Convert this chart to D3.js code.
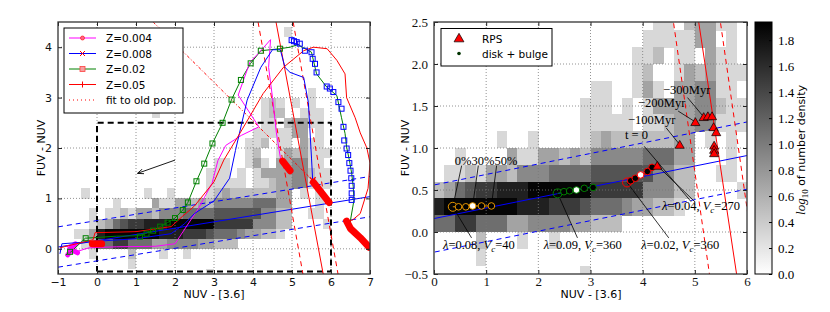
<!DOCTYPE html>
<html><head><meta charset="utf-8">
<script src="https://cdn.jsdelivr.net/npm/d3@7"></script>
<style>body{margin:0;background:#fff}</style></head>
<body><svg id="c" width="830" height="312"></svg>
<script>
// ---------- DATA ----------
// 2D histogram of galaxies: rows from top (y 4.2-4.4) down to (y -0.6..-0.4); cols x from -1.0 step 0.2
const histX0 = -1.0, histYTop = 4.2, histBin = 0.2;
const levelValues = [0, 0.3, 0.5, 0.7, 0.9, 1.1, 1.3, 1.5, 1.7, 1.9]; // log10 number density
const densityRows = [
  "..... ..... ..... ..... ..... ....1 ..... .....",
  "..... ..... ..... ..... ..... ..... ..... .....",
  "..... ..... ..... ..... ..... ..... ..... .....",
  "..... ..... ..... ..... ..... ..... ..... .....",
  "..... ..... ..... ..... ..... ..... ..... .....",
  "..... ..... ..... ..... ..... ..... ..... .....",
  "..... ..... ..... ..... ..... ..... ..1.. .....",
  "..... ..... ..... ..... ..... .121. 1.1.. .....",
  "..... ..... ..1.. ..... ..... .122. .111. .....",
  "..... ..... ..... ..... ..... .11.2 3311. .....",
  "..... ..... ..... ..... ..... 11111 33.1. .....",
  "..... ..... ..... ..... ....1 12.11 .311. .....",
  "..... ..... ..... ..... ....1 2..13 23111 .....",
  "..... ..... ..... ..... 11..1 31.33 4411. .....",
  "..... ..... ..... ....1 11.1. 13333 44211 .....",
  "..... ..... ..... ....1 1111. 11233 44111 .....",
  "...1. ..... .1..1 ....1 23222 22233 .1.1. .....",
  "..... ..1.. ..311 33232 44444 55533 ...1. .....",
  "....1 .1121 33244 45555 66666 64422 ..11. .....",
  "....1 23567 78889 99999 77777 44422 ....1 .....",
  "..113 89999 99988 87776 55543 3221. ..... .....",
  "...12 55775 55334 44433 222.. ..... ..... .....",
  "....1 ....2 ...1. .1... ..... ..... ..... .....",
  "..... ....1 ..... ..... ..... ..... ..... .....",
  "..... ..... ..... ....1 ..... ..... ..... ....."
];

// tick labels
const leftXTicks = [-1, 0, 1, 2, 3, 4, 5, 6, 7];
const leftYTicks = [0, 1, 2, 3, 4];
const rightXTicks = [0, 1, 2, 3, 4, 5, 6];
const rightYTicks = [-0.5, 0, 0.5, 1, 1.5, 2, 2.5];
const cbTicks = [0, 0.2, 0.4, 0.6, 0.8, 1.0, 1.2, 1.4, 1.6, 1.8];
const cbMax = 1.94;

// model tracks (left panel)
const trackZ004 = [[-0.75,-0.12],[-0.55,0.12],[-0.78,0.05],[-0.5,-0.05],[-0.2,0.02],[0.5,0.04],[1.5,0.05],[2.0,0.1],[2.3,0.45],[2.6,0.8],[2.95,1.3],[3.1,1.75],[3.3,2.05],[3.7,2.25],[4.15,2.42],[3.62,3.05],[3.92,3.7],[4.2,3.93],[4.45,4.15],[4.4,3.6],[4.5,3.0],[4.6,2.3],[4.72,1.72]];
const trackZ008 = [[-0.95,-0.1],[-0.9,0.1],[0,0.15],[1.0,0.2],[1.9,0.3],[2.25,0.5],[2.5,0.7],[3.0,0.95],[3.4,1.4],[3.55,1.95],[3.85,2.95],[4.2,3.6],[4.5,3.95],[4.7,3.95],[4.82,3.6],[4.95,3.5],[5.3,3.4],[5.42,2.9],[5.5,1.8],[5.53,1.36]];
const trackZ02 = [[-0.8,-0.12],[-0.65,-0.05],[-0.3,0.21],[0.5,0.25],[1.1,0.26],[1.44,0.36],[1.62,0.44],[1.81,0.52],[2.0,0.61],[2.2,0.77],[2.33,0.92],[2.55,1.34],[2.75,1.69],[2.96,2.09],[3.22,2.5],[3.45,2.96],[3.69,3.35],[3.94,3.68],[4.2,3.93],[4.69,3.97],[4.95,4.0],[5.15,4.05],[5.5,3.9],[5.63,3.47],[5.89,3.21],[6.15,3.04],[6.27,2.6],[6.36,2.29],[6.4,2.02],[6.47,1.76],[6.53,1.5],[6.57,1.23],[6.59,0.97],[6.5,0.57],[6.5,0.35]];
const trackZ05 = [[-0.95,0.02],[-0.1,0.18],[-0.05,0.32],[1.0,0.34],[1.9,0.44],[2.2,0.65],[2.5,0.85],[3.0,1.33],[3.25,1.76],[3.67,2.3],[4.26,3.08],[4.78,3.6],[5.3,3.93],[5.55,4.0],[5.9,3.97],[6.15,3.74],[6.36,3.47],[6.4,3.0],[6.62,2.6],[6.75,2.3],[6.92,2.0],[7.0,1.7],[6.95,1.2],[6.75,0.7],[6.55,0.57],[6.4,0.55]];
const greenSquares = [[-0.69,-0.06],[-0.29,0.21],[1.1,0.24],[1.27,0.3],[1.44,0.36],[1.62,0.44],[1.81,0.52],[2.0,0.61],[2.2,0.77],[2.33,0.92],[2.55,1.34],[2.75,1.69],[2.96,2.09],[3.22,2.5],[3.45,2.96],[3.69,3.35],[3.94,3.68],[4.2,3.93],[4.69,3.97]];
const blueSquares = [[4.99,4.14],[5.05,4.12],[5.12,4.1],[5.2,4.07],[5.33,3.93],[5.5,3.9],[5.53,3.77],[5.59,3.67],[5.63,3.5],[5.89,3.22],[5.97,3.18],[6.06,3.11],[6.19,2.91],[6.27,2.78],[6.32,2.42],[6.34,2.15],[6.4,1.99],[6.44,1.86],[6.47,1.7],[6.5,1.55],[6.52,1.4],[6.53,1.25],[6.53,1.1],[6.53,0.97]];
const blobs = [
  [[4.76,1.74],[4.95,1.55]],
  [[5.55,1.32],[5.75,1.12],[5.95,0.92]],
  [[6.4,0.55],[6.5,0.4],[6.75,0.22],[6.98,0.03]],
  [[-0.12,0.1],[0.12,0.1]]
];
const magentaBlob = [[-0.75,-0.12],[-0.55,0.1],[-0.7,0.0],[-0.5,-0.08]];
const oldFit = [[1.44,4.5],[5.45,1.42]];
const redFit = [[4.59,4.5],[5.80,-0.5]];
const redFitLo = [[4.13,4.5],[5.28,-0.5]];
const redFitHi = [[5.03,4.5],[6.18,-0.5]];
const blueFit = [[-1,0.035],[7,1.035]];
const blueFitHi = [[-1,0.435],[7,1.435]];
const blueFitLo = [[-1,-0.365],[7,0.635]];
const selBox = [[0,-0.45],[6,-0.45],[6,2.5],[0,2.5],[0,-0.45]];
const arrowLine = [[2.0,1.76],[1.05,1.5]];
const legendNames = ["Z=0.004","Z=0.008","Z=0.02","Z=0.05","fit to old pop."];

// right panel points
const orangeX = [0.36,0.47,0.61,0.74,0.91,1.1], orangeY = [0.30,0.30,0.30,0.31,0.31,0.31];
const greenX = [2.37,2.49,2.6,2.73,2.88,3.05], greenY = [0.46,0.48,0.49,0.5,0.52,0.53];
const redCX = [3.7,3.77,3.86,3.96,4.09,4.18], redCY = [0.59,0.61,0.64,0.68,0.72,0.77];
const rpsX = [4.28,4.71,5.01,5.17,5.25,5.33,5.36,5.41,5.37,5.37,5.37];
const rpsY = [0.79,1.04,1.31,1.37,1.38,1.38,1.25,1.19,1.03,0.98,0.94];

// ---------- DRAW ----------
const svg = d3.select("#c");
const defs = svg.append("defs");
const sans = "DejaVu Sans, sans-serif";
const serif = "Liberation Serif, DejaVu Serif, serif";
const gray = d3.scaleLinear().domain([0, cbMax]).range(["#ffffff", "#000000"]);

function addClip(id, x, y, w, h) {
  defs.append("clipPath").attr("id", id).append("rect").attr("x", x).attr("y", y).attr("width", w).attr("height", h);
}

function drawHist(g, xs, ys) {
  densityRows.forEach((row, i) => {
    const s = row.replace(/ /g, "");
    const yb = histYTop - histBin * i;
    for (let c = 0; c < s.length; c++) {
      if (s[c] === ".") continue;
      const x = histX0 + histBin * c;
      const v = levelValues[+s[c]];
      g.append("rect")
        .attr("x", xs(x)).attr("y", ys(yb + histBin))
        .attr("width", xs(x + histBin) - xs(x) + 0.3)
        .attr("height", ys(yb) - ys(yb + histBin) + 0.3)
        .attr("fill", gray(v)).attr("shape-rendering", "crispEdges");
    }
  });
}

function drawGrid(g, xs, ys, xt, yt) {
  const [x0, x1] = xs.range(), [y0, y1] = ys.range();
  xt.forEach(t => { const p = xs(t); if (Math.abs(p - x0) > 1 && Math.abs(p - x1) > 1)
    g.append("line").attr("x1", p).attr("x2", p).attr("y1", y0).attr("y2", y1)
     .attr("stroke", "#777").attr("stroke-width", 0.8).attr("stroke-dasharray", "1,2"); });
  yt.forEach(t => { const p = ys(t); if (Math.abs(p - y0) > 1 && Math.abs(p - y1) > 1)
    g.append("line").attr("x1", x0).attr("x2", x1).attr("y1", p).attr("y2", p)
     .attr("stroke", "#777").attr("stroke-width", 0.8).attr("stroke-dasharray", "1,2"); });
}

function drawAxes(xs, ys, xt, yt, xfmt, yfmt, font, fsize, xpad) {
  const [x0, x1] = xs.range(), [y0, y1] = ys.range();
  const styleAx = (g) => {
    g.select(".domain").remove();
    g.selectAll(".tick line").attr("stroke", "#222");
    g.selectAll(".tick text").attr("font-family", font).attr("font-size", fsize).attr("fill", "#111");
  };
  svg.append("g").attr("transform", `translate(0,${y0})`)
    .call(d3.axisBottom(xs).tickValues(xt).tickFormat(xfmt).tickSize(-4).tickPadding(xpad)).call(styleAx);
  svg.append("g").attr("transform", `translate(0,${y1})`)
    .call(d3.axisTop(xs).tickValues(xt).tickFormat("").tickSize(-4)).call(styleAx);
  svg.append("g").attr("transform", `translate(${x0},0)`)
    .call(d3.axisLeft(ys).tickValues(yt).tickFormat(yfmt).tickSize(-4).tickPadding(6)).call(styleAx);
  svg.append("g").attr("transform", `translate(${x1},0)`)
    .call(d3.axisRight(ys).tickValues(yt).tickFormat("").tickSize(-4)).call(styleAx);
  svg.append("rect").attr("x", x0).attr("y", y1).attr("width", x1 - x0).attr("height", y0 - y1)
    .attr("fill", "none").attr("stroke", "#333").attr("stroke-width", 1.3);
}

// ===== LEFT PANEL =====
const xL = d3.scaleLinear().domain([-1, 7]).range([58, 370]);
const yL = d3.scaleLinear().domain([-0.5, 4.5]).range([274, 22]);
addClip("clipL", 58, 22, 312, 252);
const gL = svg.append("g").attr("clip-path", "url(#clipL)");
drawHist(gL, xL, yL);
drawGrid(gL, xL, yL, leftXTicks, leftYTicks);
const lineL = d3.line().x(d => xL(d[0])).y(d => yL(d[1]));

gL.append("path").attr("d", lineL(selBox)).attr("fill", "none").attr("stroke", "#000").attr("stroke-width", 2).attr("stroke-dasharray", "6,4");
[[blueFitHi, "5,4"], [blueFitLo, "5,4"], [blueFit, null]].forEach(([d, da]) => {
  gL.append("path").attr("d", lineL(d)).attr("fill", "none").attr("stroke", "#0000ff").attr("stroke-width", 1).attr("stroke-dasharray", da);
});
[[redFitLo, "5,4"], [redFitHi, "5,4"], [redFit, null]].forEach(([d, da]) => {
  gL.append("path").attr("d", lineL(d)).attr("fill", "none").attr("stroke", "#ff0000").attr("stroke-width", 1).attr("stroke-dasharray", da);
});
gL.append("path").attr("d", lineL(oldFit)).attr("fill", "none").attr("stroke", "#ff0000").attr("stroke-width", 1).attr("stroke-dasharray", "3,2,1,2");

// tracks
gL.append("path").attr("d", lineL(magentaBlob)).attr("fill", "none").attr("stroke", "#ff00ff").attr("stroke-width", 5).attr("stroke-linecap", "round").attr("stroke-linejoin", "round");
gL.append("path").attr("d", lineL(trackZ02)).attr("fill", "none").attr("stroke", "#008000").attr("stroke-width", 1);
gL.append("path").attr("d", lineL(trackZ004)).attr("fill", "none").attr("stroke", "#ff00ff").attr("stroke-width", 1);
gL.append("path").attr("d", lineL(trackZ008)).attr("fill", "none").attr("stroke", "#0000ff").attr("stroke-width", 1);
gL.append("path").attr("d", lineL(trackZ05)).attr("fill", "none").attr("stroke", "#ff0000").attr("stroke-width", 1);
gL.selectAll(".gsq").data(greenSquares).enter().append("rect")
  .attr("x", d => xL(d[0]) - 2.5).attr("y", d => yL(d[1]) - 2.5).attr("width", 5).attr("height", 5)
  .attr("fill", "none").attr("stroke", "#008000").attr("stroke-width", 1);
gL.selectAll(".bsq").data(blueSquares).enter().append("rect")
  .attr("x", d => xL(d[0]) - 2.5).attr("y", d => yL(d[1]) - 2.5).attr("width", 5).attr("height", 5)
  .attr("fill", "none").attr("stroke", "#0000ff").attr("stroke-width", 1);
blobs.forEach(b => {
  gL.append("path").attr("d", lineL(b)).attr("fill", "none").attr("stroke", "#ff0000").attr("stroke-width", 7)
    .attr("stroke-linecap", "round").attr("stroke-linejoin", "round");
});
{
  const px = xL(5.53), py = yL(1.36);
  gL.append("path").attr("d", `M${px-3},${py-3}L${px+3},${py+3}M${px-3},${py+3}L${px+3},${py-3}`).attr("stroke", "#ff0000").attr("stroke-width", 1.2);
}
defs.append("marker").attr("id", "ah").attr("viewBox", "0 0 10 10").attr("refX", 9).attr("refY", 5)
  .attr("markerWidth", 7).attr("markerHeight", 7).attr("orient", "auto")
  .append("path").attr("d", "M0,1L10,5L0,9").attr("fill", "none").attr("stroke", "#000").attr("stroke-width", 1.3);
gL.append("path").attr("d", lineL(arrowLine)).attr("stroke", "#000").attr("stroke-width", 0.9).attr("marker-end", "url(#ah)");

drawAxes(xL, yL, leftXTicks, leftYTicks, d3.format("d"), d3.format("d"), sans, 11, 4);

// left legend
{
  const lg = svg.append("g");
  lg.append("rect").attr("x", 64).attr("y", 28).attr("width", 119).attr("height", 85).attr("fill", "#fff").attr("stroke", "#000").attr("stroke-width", 1);
  const cols = ["#ff00ff", "#0000ff", "#008000", "#ff0000", "#ff0000"];
  legendNames.forEach((n, i) => {
    const y = 38 + i * 15.5;
    const l = lg.append("line").attr("x1", 69).attr("x2", 96).attr("y1", y).attr("y2", y).attr("stroke", cols[i]).attr("stroke-width", 1);
    if (i === 4) l.attr("stroke-dasharray", "1,3");
    const mx = 82.5;
    if (i === 0) lg.append("circle").attr("cx", mx).attr("cy", y).attr("r", 2).attr("fill", "#ff6688").attr("stroke", "#ff0000").attr("stroke-width", 0.6);
    if (i === 1) lg.append("path").attr("d", `M${mx-2.5},${y-2.5}L${mx+2.5},${y+2.5}M${mx-2.5},${y+2.5}L${mx+2.5},${y-2.5}`).attr("stroke", "#ff0000").attr("stroke-width", 1);
    if (i === 2) lg.append("rect").attr("x", mx - 2.5).attr("y", y - 2.5).attr("width", 5).attr("height", 5).attr("fill", "#f4a0a0").attr("stroke", "#ff4040").attr("stroke-width", 0.8);
    if (i === 3) lg.append("path").attr("d", `M${mx-3},${y}L${mx+3},${y}M${mx},${y-3}L${mx},${y+3}`).attr("stroke", "#ff0000").attr("stroke-width", 1);
    lg.append("text").attr("x", 106).attr("y", y + 4).attr("font-family", sans).attr("font-size", 10.5).text(n);
  });
}
svg.append("text").attr("x", 214).attr("y", 298).attr("text-anchor", "middle").attr("font-family", sans).attr("font-size", 11).text("NUV - [3.6]");
svg.append("text").attr("transform", "translate(45,148) rotate(-90)").attr("text-anchor", "middle").attr("font-family", sans).attr("font-size", 11).text("FUV - NUV");

// ===== RIGHT PANEL =====
const xR = d3.scaleLinear().domain([0, 6]).range([434, 747]);
const yR = d3.scaleLinear().domain([-0.5, 2.5]).range([274, 22]);
addClip("clipR", 434, 22, 313, 252);
const gR = svg.append("g").attr("clip-path", "url(#clipR)");
drawHist(gR, xR, yR);
drawGrid(gR, xR, yR, rightXTicks, rightYTicks);
const lineR = d3.line().x(d => xR(d[0])).y(d => yR(d[1]));
[[blueFitHi, "5,4"], [blueFitLo, "5,4"], [blueFit, null]].forEach(([d, da]) => {
  gR.append("path").attr("d", lineR(d)).attr("fill", "none").attr("stroke", "#0000ff").attr("stroke-width", 1).attr("stroke-dasharray", da);
});
[[redFitLo, "5,4"], [redFitHi, "5,4"], [redFit, null]].forEach(([d, da]) => {
  gR.append("path").attr("d", lineR(d)).attr("fill", "none").attr("stroke", "#ff0000").attr("stroke-width", 1).attr("stroke-dasharray", da);
});

// annotation leader lines
const leaders = [
  [[0.53, 0.79], [0.36, 0.30]],
  [[0.85, 0.79], [0.74, 0.31]],
  [[1.2, 0.79], [1.1, 0.31]],
  [[0.36, 0.30], [0.72, -0.07]],
  [[2.37, 0.46], [2.75, -0.07]],
  [[3.7, 0.59], [4.5, -0.07]],
  [[4.28, 0.79], [5.0, 0.36]],
  [[4.03, 1.02], [4.93, 0.36]],
  [[4.45, 1.24], [4.71, 1.04]],
  [[4.68, 1.44], [5.01, 1.31]],
  [[4.86, 1.6], [5.17, 1.37]]
];
leaders.forEach(d => gR.append("path").attr("d", lineR(d)).attr("stroke", "#000").attr("stroke-width", 0.8));

function circles(xs, ys, col, whiteIdx) {
  xs.forEach((x, i) => {
    const cx = xR(x), cy = yR(ys[i]);
    gR.append("circle").attr("cx", cx).attr("cy", cy).attr("r", i === 0 ? 4.5 : 3.3)
      .attr("fill", i === whiteIdx ? "#fff" : (i === 0 ? "none" : "#000")).attr("stroke", col).attr("stroke-width", 1);
  });
}
const lineXY = (xs, ys) => xs.map((x, i) => [x, ys[i]]);
gR.append("path").attr("d", lineR(lineXY(orangeX, orangeY))).attr("fill", "none").attr("stroke", "#e69500").attr("stroke-width", 1);
circles(orangeX, orangeY, "#e69500", 3);
gR.append("path").attr("d", lineR(lineXY(greenX, greenY))).attr("fill", "none").attr("stroke", "#008000").attr("stroke-width", 1);
circles(greenX, greenY, "#008000", 3);
gR.append("path").attr("d", lineR(lineXY(redCX, redCY))).attr("fill", "none").attr("stroke", "#ff0000").attr("stroke-width", 1);
circles(redCX, redCY, "#ff0000", 3);
const tri = d3.symbol().type(d3.symbolTriangle).size(36);
rpsX.forEach((x, i) => {
  gR.append("path").attr("d", tri()).attr("transform", `translate(${xR(x)},${yR(rpsY[i]) + 1})`)
    .attr("fill", "#ff0000").attr("stroke", "#000").attr("stroke-width", 0.7);
});

// right annotations text
function mathLabel(x, y, lam, vc) {
  const t = svg.append("text").attr("x", xR(x)).attr("y", yR(y)).attr("text-anchor", "middle").attr("font-family", serif).attr("font-size", 12.5);
  t.append("tspan").attr("font-style", "italic").text("λ");
  t.append("tspan").text("=" + lam + ", ");
  t.append("tspan").attr("font-style", "italic").text("V");
  t.append("tspan").attr("font-style", "italic").attr("font-size", 9).attr("dy", 3).text("c");
  t.append("tspan").attr("dy", -3).text("=" + vc);
}
mathLabel(0.86, -0.2, "0.08", "40");
mathLabel(2.85, -0.2, "0.09", "360");
mathLabel(4.72, -0.2, "0.02", "360");
mathLabel(5.12, 0.26, "0.04", "270");
const stxt = (x, y, s) => svg.append("text").attr("x", xR(x)).attr("y", yR(y))
  .attr("font-family", serif).attr("font-size", 12.5).text(s);
stxt(0.4, 0.8, "0%30%50%");
stxt(4.39, 1.64, "−300Myr");
stxt(3.91, 1.49, "−200Myr");
stxt(3.72, 1.29, "−100Myr");
stxt(3.66, 1.11, "t = 0");

drawAxes(xR, yR, rightXTicks, rightYTicks, d3.format("d"), d3.format(".1f"), serif, 13, 3);

// right legend
{
  const lg = svg.append("g");
  lg.append("rect").attr("x", 441).attr("y", 28.5).attr("width", 111).attr("height", 37.5).attr("fill", "#fff").attr("stroke", "#000").attr("stroke-width", 1);
  lg.append("path").attr("d", d3.symbol().type(d3.symbolTriangle).size(42)()).attr("transform", "translate(459,39)").attr("fill", "#ff0000").attr("stroke", "#000").attr("stroke-width", 0.7);
  lg.append("circle").attr("cx", 459).attr("cy", 53.5).attr("r", 1.8).attr("fill", "#003300");
  lg.append("text").attr("x", 482).attr("y", 43).attr("font-family", sans).attr("font-size", 10.5).text("RPS");
  lg.append("text").attr("x", 482).attr("y", 57.5).attr("font-family", sans).attr("font-size", 10.5).text("disk + bulge");
}
svg.append("text").attr("x", 591).attr("y", 298).attr("text-anchor", "middle").attr("font-family", sans).attr("font-size", 11).text("NUV - [3.6]");
svg.append("text").attr("transform", "translate(409,148) rotate(-90)").attr("text-anchor", "middle").attr("font-family", sans).attr("font-size", 11).text("FUV - NUV");

// ===== COLORBAR =====
const cbY = d3.scaleLinear().domain([0, cbMax]).range([274, 22]);
const grad = defs.append("linearGradient").attr("id", "cbg").attr("x1", 0).attr("x2", 0).attr("y1", 1).attr("y2", 0);
grad.append("stop").attr("offset", "0%").attr("stop-color", gray(0));
grad.append("stop").attr("offset", "100%").attr("stop-color", gray(cbMax));
svg.append("rect").attr("x", 755).attr("y", 22).attr("width", 17).attr("height", 252).attr("fill", "url(#cbg)").attr("stroke", "#000").attr("stroke-width", 1);
svg.append("g").attr("transform", "translate(772,0)")
  .call(d3.axisRight(cbY).tickValues(cbTicks).tickFormat(d3.format(".1f")).tickSize(-3).tickPadding(6))
  .call(g => { g.select(".domain").remove(); g.selectAll(".tick line").attr("stroke", "#000");
    g.selectAll(".tick text").attr("font-family", serif).attr("font-size", 13); });
{
  const t = svg.append("text").attr("transform", "translate(805,150) rotate(-90)").attr("text-anchor", "middle").attr("font-family", sans).attr("font-size", 11);
  t.append("tspan").attr("font-family", serif).attr("font-style", "italic").attr("font-size", 13).text("log");
  t.append("tspan").attr("font-family", serif).attr("font-size", 9).attr("dy", 3).text("10");
  t.append("tspan").attr("dy", -3).text(" of number density");
}
</script></body></html>
